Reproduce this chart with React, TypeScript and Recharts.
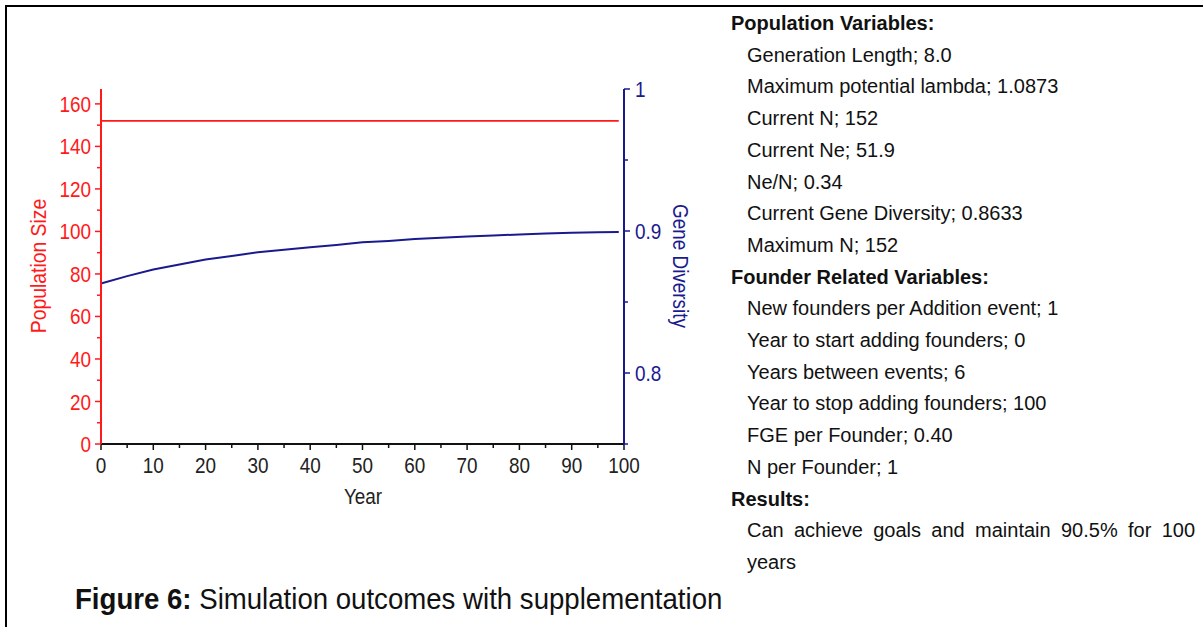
import { LineChart, Line, XAxis, YAxis, Label } from 'recharts';

const years = [0, 5, 10, 15, 20, 25, 30, 35, 40, 45, 50, 55, 60, 65, 70, 75, 80, 85, 90, 95, 99];
const populationSize = [152, 152, 152, 152, 152, 152, 152, 152, 152, 152, 152, 152, 152, 152, 152, 152, 152, 152, 152, 152, 152];
const geneDiversity = [
  0.863, 0.8682, 0.8729, 0.8764, 0.8799, 0.8824, 0.885, 0.8868, 0.8885, 0.8901, 0.892,
  0.893, 0.8943, 0.8952, 0.8962, 0.8969, 0.8975, 0.8983, 0.8988, 0.8991, 0.8993,
];

const yearTicks = [0, 5, 10, 15, 20, 25, 30, 35, 40, 45, 50, 55, 60, 65, 70, 75, 80, 85, 90, 95, 100];
const popTicks = [0, 10, 20, 30, 40, 50, 60, 70, 80, 90, 100, 110, 120, 130, 140, 150, 160];
const gdTicks = [0.75, 0.8, 0.85, 0.9, 0.95, 1];

const populationLines = [
  'Generation Length; 8.0',
  'Maximum potential lambda; 1.0873',
  'Current N; 152',
  'Current Ne; 51.9',
  'Ne/N; 0.34',
  'Current Gene Diversity; 0.8633',
  'Maximum N; 152',
];
const founderLines = [
  'New founders per Addition event; 1',
  'Year to start adding founders; 0',
  'Years between events; 6',
  'Year to stop adding founders; 100',
  'FGE per Founder; 0.40',
  'N per Founder; 1',
];
const resultText = 'Can achieve goals and maintain 90.5% for 100 years';

const data = years.map((year, i) => ({ year, pop: populationSize[i], gd: geneDiversity[i] }));

const FONT = "'Liberation Sans', Arial, sans-serif";
const RED = '#ff1a1a';
const BLUE = '#1a1a8f';

// narrow-looking svg text (reference uses a condensed face)
const NarrowText = ({ x, y, anchor = 'middle', fill, rotate = 0, size = 22, sx = 0.86, children }: any) => (
  <text
    transform={`translate(${x} ${y}) rotate(${rotate}) scale(${sx} 1)`}
    textAnchor={anchor}
    dominantBaseline="central"
    fill={fill}
    fontSize={size}
    fontFamily={FONT}
  >
    {children}
  </text>
);

const LeftTick = ({ x, y, payload }: any) => {
  const major = payload.value % 20 === 0;
  return (
    <g>
      <line x1={x - (major ? 6 : 4)} x2={x} y1={y} y2={y} stroke={RED} strokeWidth={1.5} />
      {major && (
        <NarrowText x={x - 10} y={y} anchor="end" fill={RED}>
          {payload.value}
        </NarrowText>
      )}
    </g>
  );
};

const RightTick = ({ x, y, payload }: any) => {
  const v = Math.round(payload.value * 100);
  const major = v % 10 === 0;
  return (
    <g>
      <line x1={x} x2={x + (major ? 6 : 4)} y1={y} y2={y} stroke={BLUE} strokeWidth={1.5} />
      {major && v > 75 && (
        <NarrowText x={x + 11} y={y} anchor="start" fill={BLUE}>
          {v === 100 ? '1' : (v / 100).toFixed(1)}
        </NarrowText>
      )}
    </g>
  );
};

const BottomTick = ({ x, y, payload }: any) => {
  const major = payload.value % 10 === 0;
  return (
    <g>
      <line x1={x} x2={x} y1={y} y2={y + (major ? 6 : 4)} stroke="#111" strokeWidth={1.5} />
      {major && (
        <NarrowText x={x} y={y + 21} fill="#222">
          {payload.value}
        </NarrowText>
      )}
    </g>
  );
};

export default function App() {
  return (
    <div style={{ position: 'absolute', left: 0, top: 0, width: 1203, height: 627, background: '#fff', overflow: 'hidden' }}>
      <div style={{ position: 'absolute', left: 5, top: 5, width: 1198, height: 2, background: '#000' }} />
      <div style={{ position: 'absolute', left: 5, top: 5, width: 2, height: 622, background: '#000' }} />

      <div style={{ position: 'absolute', left: 0, top: 0 }}>
        <LineChart width={730} height={520} data={data} margin={{ top: 89, right: 26, bottom: 26, left: 41 }}>
          <XAxis
            dataKey="year"
            type="number"
            domain={[0, 100]}
            ticks={yearTicks}
            interval={0}
            height={50}
            stroke="#111"
            strokeWidth={2}
            tickLine={false}
            tickSize={0}
            tickMargin={0}
            tick={<BottomTick />}
          >
            <Label content={() => <NarrowText x={363} y={496} fill="#222">Year</NarrowText>} />
          </XAxis>
          <YAxis
            yAxisId="pop"
            orientation="left"
            domain={[0, 167]}
            ticks={popTicks}
            interval={0}
            width={60}
            stroke={RED}
            strokeWidth={2}
            tickLine={false}
            tickSize={0}
            tickMargin={0}
            tick={<LeftTick />}
          >
            <Label content={() => <NarrowText x={38} y={266} rotate={-90} sx={0.88} fill={RED}>Population Size</NarrowText>} />
          </YAxis>
          <YAxis
            yAxisId="gd"
            orientation="right"
            domain={[0.75, 1]}
            ticks={gdTicks}
            interval={0}
            width={80}
            stroke={BLUE}
            strokeWidth={2}
            tickLine={false}
            tickSize={0}
            tickMargin={0}
            tick={<RightTick />}
          >
            <Label content={() => <NarrowText x={681} y={266} rotate={90} sx={0.86} fill={BLUE}>Gene Diversity</NarrowText>} />
          </YAxis>
          <Line yAxisId="pop" dataKey="pop" type="linear" stroke={RED} strokeWidth={1.6} dot={false} isAnimationActive={false} />
          <Line yAxisId="gd" dataKey="gd" type="linear" stroke={BLUE} strokeWidth={2} dot={false} isAnimationActive={false} />
        </LineChart>
      </div>

      <div style={{ position: 'absolute', left: 731, top: 8, width: 464, fontFamily: FONT, fontSize: 20, lineHeight: '31.7px', color: '#111' }}>
        <div style={{ fontWeight: 'bold' }}>Population Variables:</div>
        {populationLines.map((t) => (
          <div key={t} style={{ paddingLeft: 16 }}>{t}</div>
        ))}
        <div style={{ fontWeight: 'bold' }}>Founder Related Variables:</div>
        {founderLines.map((t) => (
          <div key={t} style={{ paddingLeft: 16 }}>{t}</div>
        ))}
        <div style={{ fontWeight: 'bold' }}>Results:</div>
        <div style={{ paddingLeft: 16, textAlign: 'justify' }}>{resultText}</div>
      </div>

      <div
        style={{
          position: 'absolute', left: 75, top: 581, fontFamily: FONT, fontSize: 30, lineHeight: '36px', color: '#111',
          whiteSpace: 'nowrap', transform: 'scaleX(0.92)', transformOrigin: 'left center',
        }}
      >
        <b>Figure 6:</b> Simulation outcomes with supplementation
      </div>
    </div>
  );
}
